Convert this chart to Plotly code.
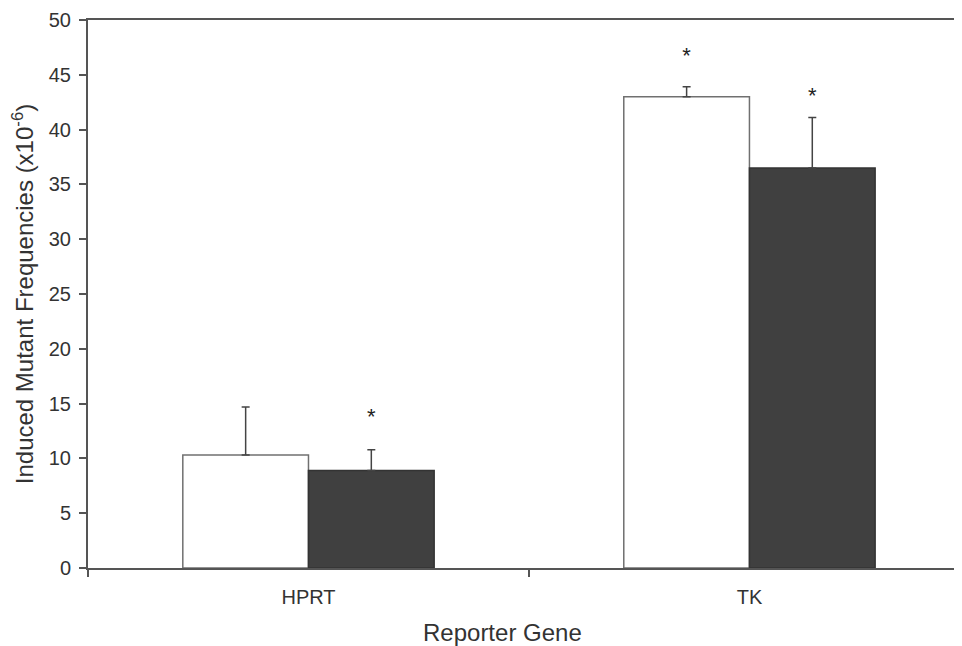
import plotly.graph_objects as go

categories = ["HPRT", "TK"]
white_values = [10.3, 43.0]
white_err = [4.4, 0.9]
dark_values = [8.9, 36.5]
dark_err = [1.9, 4.6]
white_star_y = [None, 46.6]
dark_star_y = [13.6, 42.9]
y_ticks = [0, 5, 10, 15, 20, 25, 30, 35, 40, 45, 50]
x_title = "Reporter Gene"
y_title = "Induced Mutant Frequencies (x10<sup>-6</sup>)"

font_family = "Liberation Sans, Arial, sans-serif"
line_col = "#555555"
text_col = "#333333"


def star_points(ys):
    xs = [c for c, y in zip(categories, ys) if y is not None]
    vals = [y for y in ys if y is not None]
    return xs, vals


fig = go.Figure()
fig.add_trace(go.Bar(
    x=categories, y=white_values, name="white",
    marker=dict(color="white", line=dict(color="#707070", width=1.5)),
    error_y=dict(type="data", array=white_err, arrayminus=[0, 0], symmetric=False,
                 color="#444444", thickness=1.5, width=4),
    offsetgroup="a",
))
fig.add_trace(go.Bar(
    x=categories, y=dark_values, name="dark",
    marker=dict(color="#404040", line=dict(color="#333333", width=1.5)),
    error_y=dict(type="data", array=dark_err, arrayminus=[0, 0], symmetric=False,
                 color="#444444", thickness=1.5, width=4),
    offsetgroup="b",
))
for ys, grp in ((white_star_y, "a"), (dark_star_y, "b")):
    sx, sy = star_points(ys)
    fig.add_trace(go.Scatter(
        x=sx, y=sy, mode="text", text=["*"] * len(sx),
        textfont=dict(size=22, color="#222222", family=font_family),
        offsetgroup=grp, showlegend=False, cliponaxis=False,
    ))

fig.add_annotation(
    text=x_title, xref="paper", yref="paper", x=0.4737, y=-0.1186,
    xanchor="center", yanchor="middle", showarrow=False,
    font=dict(size=24, color=text_col, family=font_family),
)

fig.update_layout(
    width=954, height=638, autosize=False,
    margin=dict(l=80, r=0, t=12, b=78, autoexpand=False),
    plot_bgcolor="white", paper_bgcolor="white",
    barmode="group", bargap=0.43, bargroupgap=0,
    scattermode="group", scattergap=0.43,
    showlegend=False,
    font=dict(family=font_family, color=text_col, size=20),
    xaxis=dict(
        type="category", categoryorder="array", categoryarray=categories,
        range=[-0.5, 1.482],
        showline=True, linecolor=line_col, linewidth=2, mirror=True,
        ticks="outside", tickson="boundaries", ticklen=7, tickcolor=line_col, tickwidth=1.5,
        showgrid=False, zeroline=False, ticklabelstandoff=10,
        tickfont=dict(size=20, color=text_col),
    ),
    yaxis=dict(
        range=[0, 50], tickvals=y_ticks,
        showline=True, linecolor=line_col, linewidth=2,
        ticks="outside", ticklen=7, tickcolor=line_col, tickwidth=1.5,
        showgrid=False, zeroline=False, ticklabelstandoff=4,
        tickfont=dict(size=20, color=text_col),
        title=dict(text=y_title, font=dict(size=24, color=text_col), standoff=15),
    ),
)

fig.write_html("out.html")
